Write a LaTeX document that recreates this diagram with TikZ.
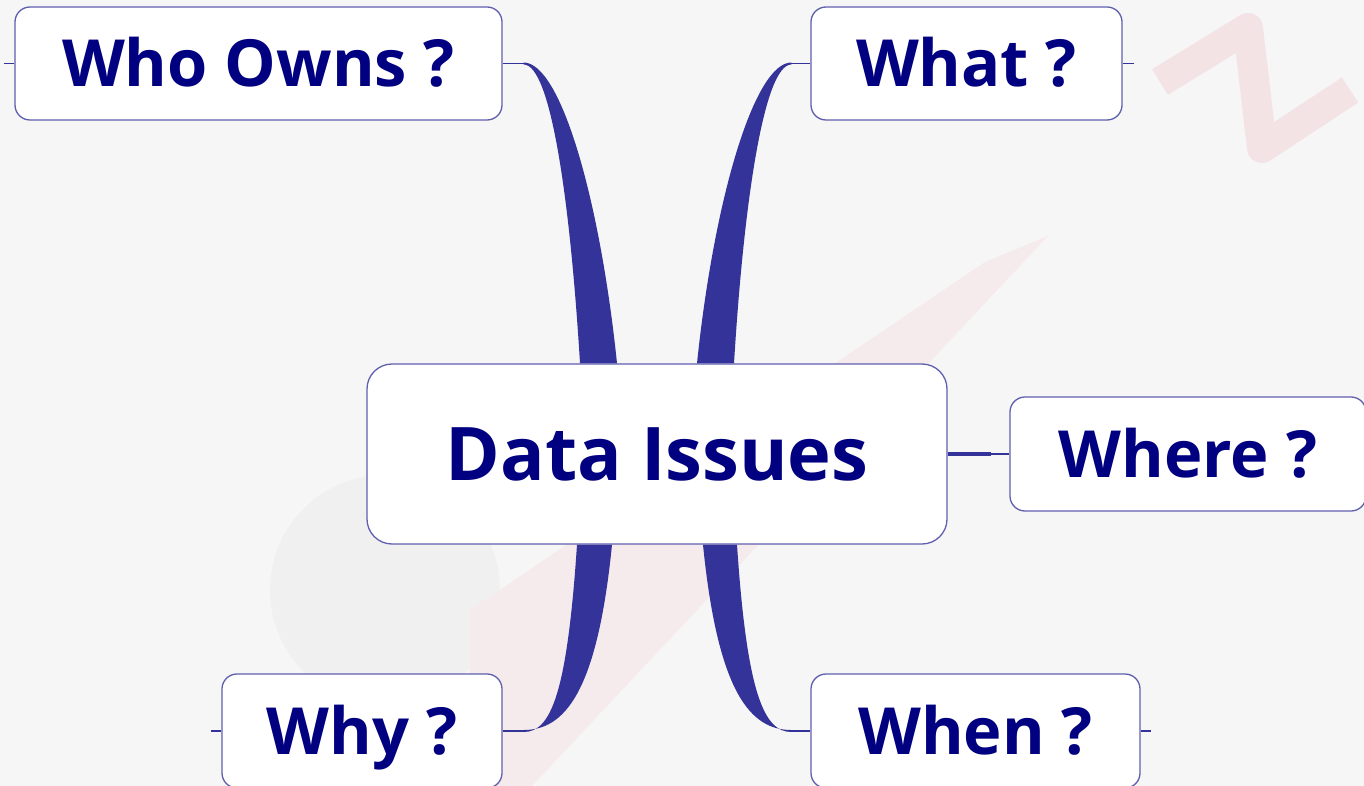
\documentclass[tikz,border=0pt]{standalone}
\usepackage{fontspec}
\setmainfont{Open Sans}
\usetikzlibrary{calc,backgrounds}
\definecolor{inkblue}{HTML}{000080}
\definecolor{rimblue}{HTML}{5F5FAF}
\definecolor{limbblue}{HTML}{333399}
\definecolor{paper}{HTML}{F6F6F6}
\definecolor{needle}{HTML}{F6EBEC}
\definecolor{letterN}{HTML}{F4E3E5}
\definecolor{knob}{HTML}{F0F0F0}
\tikzset{
  topic/.style={draw=rimblue, line width=1.3pt, fill=white, rounded corners=15pt,
    font=\bfseries\fontsize{65}{70}\selectfont, text=inkblue,
    text height=47pt, text depth=0pt, inner sep=0pt},
  hub/.style={topic, rounded corners=25pt,
    font=\bfseries\fontsize{74}{80}\selectfont, text height=53pt},
  branch/.style={fill=limbblue},
  twig/.style={draw=limbblue, line width=1.2pt},
}
\begin{document}
\begin{tikzpicture}[x=1pt,y=-1pt]
  \useasboundingbox (0,0) rectangle (1364,786);
  % topics
  \node[hub, minimum width=580pt, minimum height=180pt] (data) at (657,454) {Data Issues};
  \node[topic, minimum width=487pt, minimum height=113pt] (whoowns) at (258.5,63.5) {Who Owns ?};
  \node[topic, minimum width=311pt, minimum height=113pt] (what) at (966.5,63.5) {What ?};
  \node[topic, minimum width=356pt, minimum height=114pt] (where) at (1188,454) {Where ?};
  \node[topic, minimum width=280pt, minimum height=114pt] (why) at (362,731) {Why ?};
  \node[topic, minimum width=329pt, minimum height=114pt] (when) at (975.5,731) {When ?};
  \begin{pgfonlayer}{background}
    % faded compass behind the map
    \fill[paper] (0,0) rectangle (1364,786);
    \fill[knob] (385,590) circle (115);
    \fill[needle] (1048,236) -- (532,786) -- (470,786) -- (470,610) -- (985,262) -- cycle;
    \draw[letterN, line width=30pt, line join=round]
      (1160,82) -- (1248,28) -- (1262,148) -- (1350,90);
    % upper branches
    \fill[branch] ($(whoowns.east)+(21,-1)$) .. controls +(37,0) and +(-17,-164) .. ($(data.north)+(-40,0)$)
      -- ($(data.north)+(-77,0)$) .. controls +(-10,-164) and +(27,0) .. ($(whoowns.east)+(21,1)$) -- cycle;
    \fill[branch] ($(what.west)+(-19,-1)$) .. controls +(-37,0) and +(17,-164) .. ($(data.north)+(40,0)$)
      -- ($(data.north)+(77,0)$) .. controls +(10,-164) and +(-27,0) .. ($(what.west)+(-19,1)$) -- cycle;
    % lower branches
    \fill[branch] ($(why.east)+(21,-1)$) .. controls +(40,0) and +(-15,150) .. ($(data.south)+(-45,0)$)
      -- ($(data.south)+(-80,0)$) .. controls +(-10,150) and +(27,0) .. ($(why.east)+(21,1)$) -- cycle;
    \fill[branch] ($(when.west)+(-19,-1)$) .. controls +(-40,0) and +(15,150) .. ($(data.south)+(46,0)$)
      -- ($(data.south)+(80,0)$) .. controls +(10,150) and +(-27,0) .. ($(when.west)+(-19,1)$) -- cycle;
  \end{pgfonlayer}
  \draw[twig] (whoowns.east) -- ++(21,0);
  \draw[twig] (what.west) -- ++(-19,0);
  \draw[twig] (why.east) -- ++(21,0);
  \draw[twig] (when.west) -- ++(-19,0);
  \draw[limbblue, line width=3.5pt] (data.east) -- ++(43,0) coordinate (wherebend);
  \draw[twig] (wherebend) -- (where.west);
  % stubs
  \draw[twig] (whoowns.west) -- ++(-10,0);
  \draw[twig] (what.east) -- ++(11,0);
  \draw[twig] (why.west) -- ++(-10,0);
  \draw[twig] (when.east) -- ++(10,0);
\end{tikzpicture}
\end{document}
